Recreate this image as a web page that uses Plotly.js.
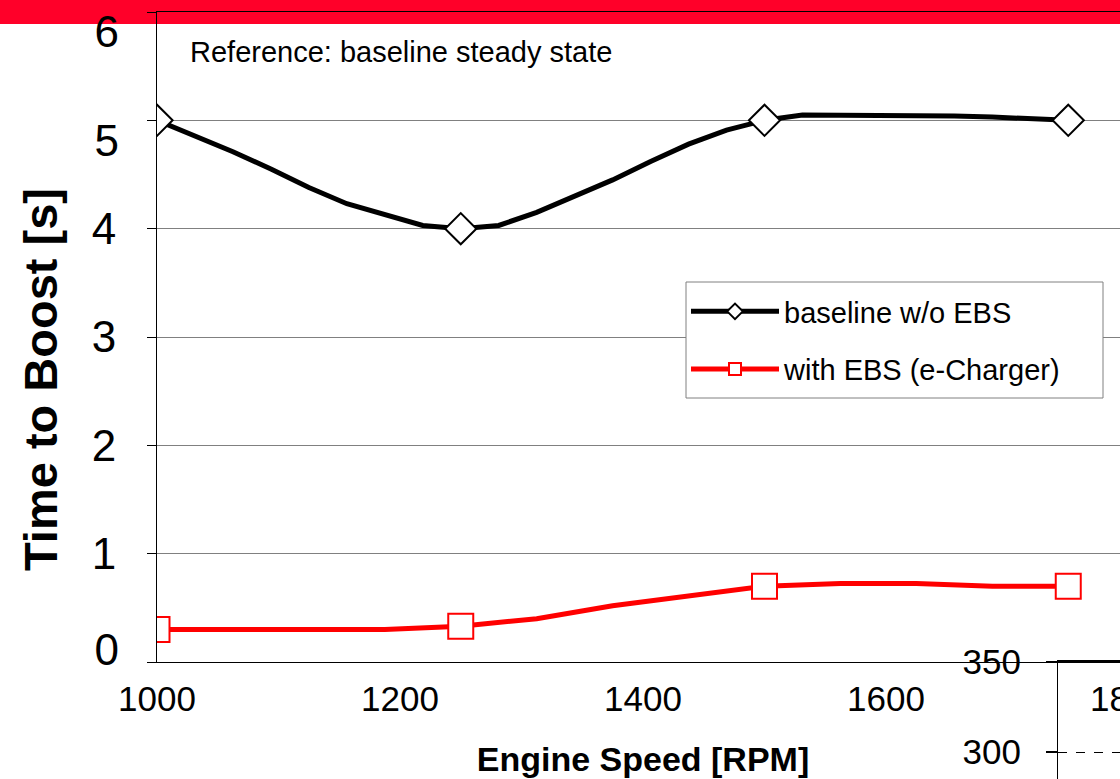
<!DOCTYPE html>
<html>
<head>
<meta charset="utf-8">
<script src="https://cdn.plot.ly/plotly-3.0.1.min.js"></script>
<style>
  html, body { margin: 0; padding: 0; overflow: hidden; background: #ffffff; }
  #chart { width: 1200px; height: 900px; }
</style>
</head>
<body>
<div id="chart"></div>
<script>
// ---- data ----
const markerRpm = [1000, 1250, 1500, 1750];

const baselineRpm = [1000, 1031.25, 1062.5, 1093.75, 1125, 1156.25, 1187.5, 1218.75, 1250,
                     1281.25, 1312.5, 1343.75, 1375, 1406.25, 1437.5, 1468.75, 1500,
                     1531.25, 1562.5, 1593.75, 1625, 1656.25, 1687.5, 1718.75, 1750];
const baselineTime = [5.0, 4.86, 4.71, 4.55, 4.38, 4.23, 4.13, 4.03, 4.0,
                      4.03, 4.15, 4.30, 4.45, 4.62, 4.78, 4.91, 5.0,
                      5.05, 5.05, 5.05, 5.05, 5.04, 5.03, 5.02, 5.0];

const ebsRpm = [1000, 1062.5, 1125, 1187.5, 1250, 1312.5, 1375, 1437.5, 1500, 1562.5, 1625, 1687.5, 1750];
const ebsTime = [0.30, 0.30, 0.30, 0.30, 0.33, 0.40, 0.52, 0.61, 0.70, 0.725, 0.725, 0.70, 0.70];

const seriesNames = ['baseline w/o EBS', 'with EBS (e-Charger)'];
const xTickVals = [1000, 1200, 1400, 1600, 1800];
const yTickVals = [0, 1, 2, 3, 4, 5, 6];
const yMidLabels = [1, 2, 3, 4];      // labels centred on their gridlines
const yHighLabels = [5, 6];           // labels drawn a little below their gridlines
const yLowLabels = [0];               // label drawn a little above its gridline
const y2TickVals = [300, 350];
const annotationText = 'Reference: baseline steady state';
const xTitle = 'Engine Speed [RPM]';
const yTitle = 'Time to Boost [s]';

// ---- layout geometry (pixels) ----
const W = 1200, H = 900;
const px = v => v / W;
const py = v => 1 - v / H;
const FONT = 'Arial, "Liberation Sans", sans-serif';
const YFONT = { size: 44, family: FONT, color: '#000000' };

function sizesFor(rpms, big) { return rpms.map(r => markerRpm.includes(r) ? big : 0); }
function widthsFor(rpms, w) { return rpms.map(r => markerRpm.includes(r) ? w : 0); }

const traces = [
  {
    x: baselineRpm, y: baselineTime, name: seriesNames[0], type: 'scatter', mode: 'lines+markers',
    legendgroup: 'a',
    line: { color: '#000000', width: 5 },
    marker: { symbol: 'diamond', color: '#ffffff', opacity: 1, size: sizesFor(baselineRpm, 24),
              line: { color: '#000000', width: widthsFor(baselineRpm, 2) } }
  },
  {
    x: ebsRpm, y: ebsTime, name: seriesNames[1], type: 'scatter', mode: 'lines+markers',
    legendgroup: 'b',
    line: { color: '#ff0000', width: 5 },
    marker: { symbol: 'square', color: '#ffffff', opacity: 1, size: sizesFor(ebsRpm, 25),
              line: { color: '#ff0000', width: widthsFor(ebsRpm, 2) } }
  },
  { x: [], y: [], xaxis: 'x', yaxis: 'y3', type: 'scatter', mode: 'lines', showlegend: false, hoverinfo: 'skip' },
  { x: [], y: [], xaxis: 'x', yaxis: 'y4', type: 'scatter', mode: 'lines', showlegend: false, hoverinfo: 'skip' },
  { x: [], y: [], xaxis: 'x2', yaxis: 'y2', type: 'scatter', mode: 'lines', showlegend: false, hoverinfo: 'skip' }
];

const overlayY = (vals, shift) => ({
  overlaying: 'y', anchor: 'x', side: 'left',
  domain: [py(662), py(12)], range: [0, 6],
  tickvals: vals, ticktext: vals.map(String),
  showgrid: false, zeroline: false, showline: false, ticks: '',
  ticklabelshift: shift, ticklabelstandoff: 37, ticklabeloverflow: 'allow',
  tickfont: YFONT
});

const layout = {
  width: W, height: H,
  margin: { l: 0, r: 0, t: 0, b: 0 },
  paper_bgcolor: '#ffffff',
  plot_bgcolor: 'rgba(0,0,0,0)',
  font: { family: FONT, color: '#000000' },
  showlegend: true,
  xaxis: {
    domain: [px(157), px(1129)], anchor: 'y',
    range: [1000, 1800], tickvals: xTickVals, ticktext: xTickVals.map(String),
    showgrid: false, zeroline: false,
    showline: true, linecolor: '#000000', linewidth: 1, mirror: true,
    ticks: '', ticklabelstandoff: 6, ticklabeloverflow: 'allow',
    tickfont: { size: 35, family: FONT, color: '#000000' },
    title: { text: xTitle, font: { size: 34, family: FONT, weight: 'bold', color: '#000000' }, standoff: 30 }
  },
  yaxis: {
    domain: [py(662), py(12)], anchor: 'x',
    range: [0, 6], tickvals: yTickVals,
    ticktext: yTickVals.map(v => yMidLabels.includes(v) ? String(v) : ''),
    showgrid: true, gridcolor: '#808080', gridwidth: 1, zeroline: false,
    showline: true, linecolor: '#000000', linewidth: 1,
    ticks: 'outside', ticklen: 9, tickcolor: '#000000', tickwidth: 1,
    ticklabelstandoff: 22, ticklabeloverflow: 'allow',
    tickfont: YFONT
  },
  yaxis3: overlayY(yHighLabels, 20),
  yaxis4: overlayY(yLowLabels, -12),
  xaxis2: {
    domain: [px(1058), 1], anchor: 'y2', side: 'top', range: [0, 1],
    showgrid: false, zeroline: false, showticklabels: false, ticks: '',
    showline: true, linecolor: '#000000', linewidth: 2
  },
  yaxis2: {
    domain: [0, py(662)], anchor: 'x2', range: [217.8, 350],
    tickvals: y2TickVals, ticktext: y2TickVals.map(String),
    showgrid: true, gridcolor: '#000000', gridwidth: 1, griddash: 'dash', zeroline: false,
    showline: true, linecolor: '#000000', linewidth: 1,
    ticks: 'outside', ticklen: 11, tickcolor: '#000000', tickwidth: 2,
    ticklabelstandoff: 18, ticklabeloverflow: 'allow',
    tickfont: { size: 35, family: FONT, color: '#000000' }
  },
  legend: {
    x: px(686), y: py(286), xanchor: 'left', yanchor: 'top',
    bgcolor: 'rgba(0,0,0,0)', borderwidth: 0,
    font: { size: 29, family: FONT, color: '#000000' },
    itemsizing: 'constant', itemwidth: 88, tracegroupgap: 17,
    traceorder: 'grouped'
  },
  shapes: [
    { type: 'rect', xref: 'paper', yref: 'paper', x0: 0, x1: 1, y0: py(24), y1: 1,
      fillcolor: 'rgb(255,0,41)', line: { width: 0 }, layer: 'below' },
    { type: 'rect', xref: 'paper', yref: 'paper', x0: px(686), x1: px(1103), y0: py(398), y1: py(282),
      fillcolor: '#ffffff', line: { color: '#808080', width: 1 }, layer: 'above' }
  ],
  annotations: [
    { text: annotationText, xref: 'paper', yref: 'paper', x: px(188), y: py(52),
      xanchor: 'left', yanchor: 'middle', showarrow: false,
      font: { size: 29, family: FONT, color: '#000000' } },
    { text: yTitle, xref: 'paper', yref: 'paper', x: px(40), y: py(380),
      xanchor: 'center', yanchor: 'middle', textangle: -90, showarrow: false,
      font: { size: 47, family: FONT, weight: 'bold', color: '#000000' } }
  ]
};

Plotly.newPlot('chart', traces, layout, { displayModeBar: false, staticPlot: true });
</script>
</body>
</html>
